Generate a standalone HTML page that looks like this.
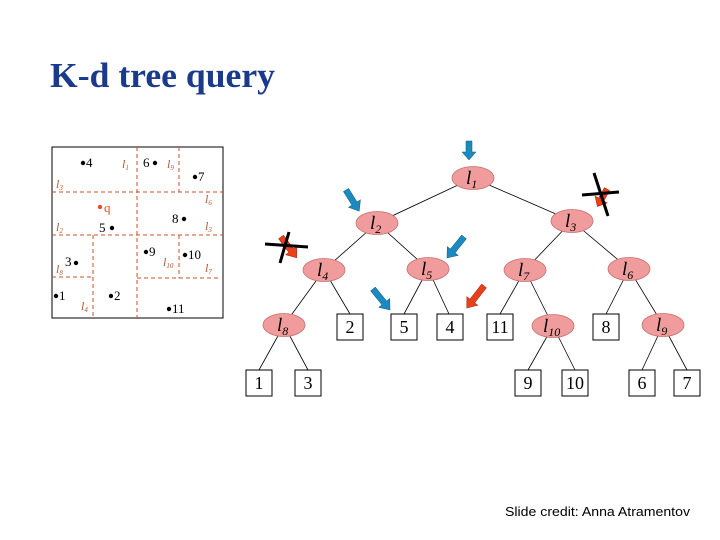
<!DOCTYPE html>
<html><head><meta charset="utf-8"><style>
html,body{margin:0;padding:0;background:#fff;width:720px;height:540px;overflow:hidden}
</style></head><body>
<svg width="720" height="540" xmlns="http://www.w3.org/2000/svg">
<text x="50" y="87" font-family="Liberation Serif, serif" font-weight="bold" font-size="35" fill="#1a3a8c" textLength="225" lengthAdjust="spacingAndGlyphs">K-d tree query</text>

<!-- left partition diagram -->
<rect x="52" y="147" width="171" height="171" fill="#fff" stroke="#000" stroke-width="1"/>
<g stroke="#c8502a" stroke-width="1" stroke-dasharray="4,3" fill="none">
<line x1="137" y1="147" x2="137" y2="318"/>
<line x1="52" y1="192" x2="223" y2="192"/>
<line x1="52" y1="235" x2="223" y2="235"/>
<line x1="179" y1="147" x2="179" y2="192"/>
<line x1="93" y1="235" x2="93" y2="318"/>
<line x1="52" y1="277" x2="93" y2="277"/>
<line x1="179" y1="235" x2="179" y2="278"/>
<line x1="137" y1="278" x2="221" y2="278"/>
</g>
<g font-family="Liberation Serif, serif" font-style="italic" font-size="12" fill="#b05a30">
<text x="122" y="168">l<tspan font-size="7" dy="2">1</tspan></text>
<text x="167" y="168">l<tspan font-size="7" dy="2">9</tspan></text>
<text x="56" y="188">l<tspan font-size="7" dy="2">3</tspan></text>
<text x="205" y="203">l<tspan font-size="7" dy="2">6</tspan></text>
<text x="56" y="231">l<tspan font-size="7" dy="2">2</tspan></text>
<text x="205" y="230">l<tspan font-size="7" dy="2">3</tspan></text>
<text x="56" y="273">l<tspan font-size="7" dy="2">8</tspan></text>
<text x="163" y="266">l<tspan font-size="7" dy="2">10</tspan></text>
<text x="205" y="272">l<tspan font-size="7" dy="2">7</tspan></text>
<text x="81" y="310">l<tspan font-size="7" dy="2">4</tspan></text>
</g>
<g font-family="Liberation Serif, serif" font-size="13" fill="#000">
<circle cx="83" cy="163" r="2.2"/><text x="86" y="167">4</text>
<text x="143" y="167">6</text><circle cx="155" cy="163" r="2.2"/>
<circle cx="195" cy="177" r="2.2"/><text x="198" y="181">7</text>
<circle cx="100" cy="207" r="2.2" fill="#e05020"/><text x="104" y="212" fill="#e05020">q</text>
<text x="99" y="232">5</text><circle cx="112" cy="228" r="2.2"/>
<text x="172" y="223">8</text><circle cx="184" cy="219" r="2.2"/>
<circle cx="146" cy="252" r="2.2"/><text x="149" y="256">9</text>
<circle cx="185" cy="255" r="2.2"/><text x="188" y="259">10</text>
<text x="65" y="266">3</text><circle cx="76" cy="263" r="2.2"/>
<circle cx="56" cy="296" r="2.2"/><text x="59" y="300">1</text>
<circle cx="111" cy="296" r="2.2"/><text x="114" y="300">2</text>
<circle cx="169" cy="309" r="2.2"/><text x="172" y="313">11</text>
</g>

<!-- tree edges -->
<g stroke="#000" stroke-width="0.8">
<line x1="473" y1="178" x2="377" y2="223"/><line x1="473" y1="178" x2="572" y2="221"/>
<line x1="377" y1="223" x2="324" y2="270"/><line x1="377" y1="223" x2="428" y2="269"/>
<line x1="572" y1="221" x2="525" y2="270"/><line x1="572" y1="221" x2="629" y2="269"/>
<line x1="324" y1="270" x2="284" y2="325"/><line x1="324" y1="270" x2="350" y2="314"/>
<line x1="428" y1="269" x2="404" y2="314"/><line x1="428" y1="269" x2="449" y2="314"/>
<line x1="525" y1="270" x2="500" y2="314"/><line x1="525" y1="270" x2="553" y2="326"/>
<line x1="629" y1="269" x2="606" y2="314"/><line x1="629" y1="269" x2="663" y2="325"/>
<line x1="284" y1="325" x2="259" y2="370"/><line x1="284" y1="325" x2="308" y2="370"/>
<line x1="553" y1="326" x2="528" y2="370"/><line x1="553" y1="326" x2="575" y2="370"/>
<line x1="663" y1="325" x2="642" y2="370"/><line x1="663" y1="325" x2="687" y2="370"/>
</g>
<g fill="#f19c9c" stroke="#c87070" stroke-width="0.8">
<ellipse cx="473" cy="178" rx="21" ry="11.5"/>
<ellipse cx="377" cy="223" rx="21" ry="11.5"/>
<ellipse cx="572" cy="221" rx="21" ry="11.5"/>
<ellipse cx="324" cy="270" rx="21" ry="11.5"/>
<ellipse cx="428" cy="269" rx="21" ry="11.5"/>
<ellipse cx="525" cy="270" rx="21" ry="11.5"/>
<ellipse cx="629" cy="269" rx="21" ry="11.5"/>
<ellipse cx="284" cy="325" rx="21" ry="11.5"/>
<ellipse cx="553" cy="326" rx="21" ry="11.5"/>
<ellipse cx="663" cy="325" rx="21" ry="11.5"/>
</g>
<g font-family="Liberation Serif, serif" font-style="italic" font-size="19" fill="#000">
<text x="466" y="184">l<tspan font-size="12" dy="4">1</tspan></text>
<text x="370" y="229">l<tspan font-size="12" dy="4">2</tspan></text>
<text x="565" y="227">l<tspan font-size="12" dy="4">3</tspan></text>
<text x="317" y="276">l<tspan font-size="12" dy="4">4</tspan></text>
<text x="421" y="275">l<tspan font-size="12" dy="4">5</tspan></text>
<text x="518" y="276">l<tspan font-size="12" dy="4">7</tspan></text>
<text x="622" y="275">l<tspan font-size="12" dy="4">6</tspan></text>
<text x="277" y="331">l<tspan font-size="12" dy="4">8</tspan></text>
<text x="543" y="332">l<tspan font-size="12" dy="4">10</tspan></text>
<text x="656" y="331">l<tspan font-size="12" dy="4">9</tspan></text>
</g>
<g fill="#fff" stroke="#000" stroke-width="1">
<rect x="337" y="314" width="26" height="26"/><rect x="391" y="314" width="26" height="26"/>
<rect x="437" y="314" width="26" height="26"/><rect x="487" y="314" width="26" height="26"/>
<rect x="593" y="314" width="26" height="26"/>
<rect x="246" y="370" width="26" height="26"/><rect x="295" y="370" width="26" height="26"/>
<rect x="515" y="370" width="26" height="26"/><rect x="562" y="370" width="26" height="26"/>
<rect x="629" y="370" width="26" height="26"/><rect x="674" y="370" width="26" height="26"/>
</g>
<g font-family="Liberation Serif, serif" font-size="18" fill="#000" text-anchor="middle">
<text x="350" y="333">2</text><text x="404" y="333">5</text><text x="450" y="333">4</text>
<text x="500" y="333">11</text><text x="606" y="333">8</text>
<text x="259" y="389">1</text><text x="308" y="389">3</text>
<text x="528" y="389">9</text><text x="575" y="389">10</text>
<text x="642" y="389">6</text><text x="687" y="389">7</text>
</g>

<!-- arrows: shaft along +x to length L, head at tip -->
<g fill="#1a8ac0" stroke="#0d5a80" stroke-width="0.5">
<g transform="translate(469,141) rotate(90)"><polygon points="0,-3 11,-3 11,-7 19,0 11,7 11,3 0,3"/></g>
<g transform="translate(346,190) rotate(58)"><polygon points="0,-3 16,-3 16,-7 25,0 16,7 16,3 0,3"/></g>
<g transform="translate(464,237) rotate(129)"><polygon points="0,-3 18,-3 18,-7 27,0 18,7 18,3 0,3"/></g>
<g transform="translate(373,289) rotate(51)"><polygon points="0,-3 18,-3 18,-7 27,0 18,7 18,3 0,3"/></g>
</g>
<g fill="#e8401a" stroke="#a02a10" stroke-width="0.5">
<g transform="translate(484,286) rotate(128)"><polygon points="0,-3 19,-3 19,-7 28,0 19,7 19,3 0,3"/></g>
<g transform="translate(281,237) rotate(53)"><polygon points="0,-3 17,-3 17,-7 26,0 17,7 17,3 0,3"/></g>
<g transform="translate(607,189) rotate(119)"><polygon points="0,-3 12,-3 12,-7 20,0 12,7 12,3 0,3"/></g>
</g>
<g stroke="#000" stroke-width="3">
<line x1="265" y1="244" x2="308" y2="247"/><line x1="289" y1="232" x2="280" y2="263"/>
<line x1="582" y1="195" x2="619" y2="192"/><line x1="594" y1="173" x2="608" y2="216"/>
</g>

<text x="505" y="516" font-family="Liberation Sans, sans-serif" font-size="13" fill="#000" textLength="185" lengthAdjust="spacingAndGlyphs">Slide credit: Anna Atramentov</text>
</svg>
</body></html>
